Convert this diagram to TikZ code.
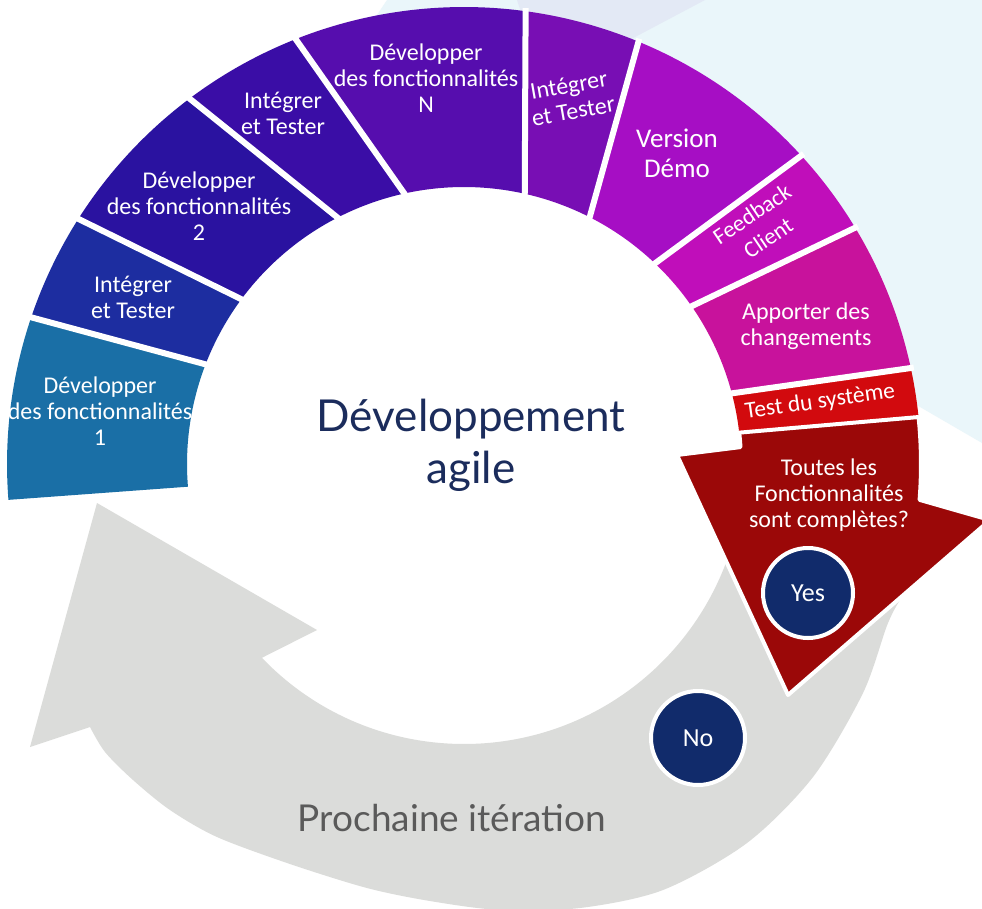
\documentclass[tikz,border=0pt]{standalone}
\usepackage{fontspec}
\setmainfont{Carlito}
\newfontfamily\labfont{Carlito}
\newfontfamily\bigfnt{Lato}
\usetikzlibrary{calc}
\definecolor{bgcyan}{HTML}{EAF6FA}
\definecolor{bglav}{HTML}{E3E9F5}
\definecolor{cA}{HTML}{1A6FA6}
\definecolor{cB}{HTML}{1D2DA0}
\definecolor{cC}{HTML}{2A12A0}
\definecolor{cD}{HTML}{3A0DA6}
\definecolor{cE}{HTML}{560DAE}
\definecolor{cF}{HTML}{780EB4}
\definecolor{cG}{HTML}{A60EC4}
\definecolor{cH}{HTML}{C00EBA}
\definecolor{cI}{HTML}{C8129C}
\definecolor{cJ}{HTML}{D20A0E}
\definecolor{arrowred}{HTML}{9B0808}
\definecolor{greyarrow}{HTML}{DBDCDA}
\definecolor{navy}{HTML}{112B6B}
\definecolor{titlenavy}{HTML}{1B2C5C}
\definecolor{greytext}{HTML}{5A5A5A}
\newcommand\ringseg[5]{%
  \fill[#1] ($(C)+(#2:457)$) arc[start angle=#2, end angle=#4, radius=457]
    -- ($(C)+(#5:277)$) arc[start angle=#5, end angle=#3, radius=277] -- cycle;}
\newcommand\ringsep[2]{\draw[sepline] ($(C)+(#1:460)$) -- ($(C)+(#2:272)$);}
\begin{document}
\begin{tikzpicture}[x=1pt,y=1pt,
  sepline/.style={white, line width=6},
  lbl/.style={align=center, text=white, inner sep=0pt,
    font=\labfont\fontsize{24}{26}\selectfont},
  circ/.style={circle, fill=navy, draw=white, line width=4, text=white,
    inner sep=0pt, font=\labfont\fontsize{26}{28}\selectfont}]
\useasboundingbox (0,0) rectangle (982,-908);
\fill[white] (0,0) rectangle (982,-908);
\coordinate (C) at (464,-464);
% background
\fill[bgcyan] (340,-70) -- (387,0) -- (982,0) -- (982,-443) -- (920,-407)
  -- (800,-337) -- (700,-250) -- (560,-120) -- (400,-100) -- cycle;
\fill[bglav] (517,0) -- (705,0) -- (620,-45) -- (540,-70) -- cycle;
% grey arrow
\fill[greyarrow] ($(C)+(223.8:280)$) arc[start angle=223.8, end angle=342.5, radius=280]
  -- (935,-548)
  -- plot[smooth] coordinates {(935,-548) (905,-592) (888,-623) (863,-693) (813,-777)
     (747,-843) (663,-890) (580,-908) (500,-910) (430,-901) (367,-888) (290,-864)
     (217,-837) (170,-810) (133,-780) (105,-752) (90,-727)}
  -- (30,-747) -- (97,-503) -- (317,-630) -- cycle;
% ring segments
\ringseg{cA}{184.5}{184.7}{161.3}{158.8}
\ringseg{cB}{161.3}{158.8}{147.6}{143.3}
\ringseg{cC}{147.6}{143.3}{127}{116.7}
\ringseg{cD}{127}{116.7}{111.7}{102}
\ringseg{cE}{111.7}{102}{82.3}{77.1}
\ringseg{cF}{82.3}{77.1}{67.6}{62.8}
\ringseg{cG}{67.6}{62.8}{42.4}{46.6}
\ringseg{cH}{42.4}{46.6}{31.1}{34.9}
\ringseg{cI}{31.1}{34.9}{12.1}{14.9}
\ringseg{cJ}{12.1}{14.9}{5.9}{6.5}
\ringsep{161.3}{158.8}
\ringsep{147.6}{143.3}
\ringsep{127}{116.7}
\ringsep{111.7}{102}
\ringsep{82.3}{77.1}
\ringsep{67.6}{62.8}
\ringsep{42.4}{46.6}
\ringsep{31.1}{34.9}
\ringsep{12.1}{14.9}
% red decision arrow
\filldraw[fill=arrowred, draw=white, line width=4, line join=round]
  ($(C)+(5.9:457)$) arc[start angle=5.9, end angle=-4.5, radius=457]
  -- (990,-520) -- (788,-695) -- (677,-455)
  -- ($(C)+(3.5:277)$) arc[start angle=3.5, end angle=6.5, radius=277] -- cycle;
% labels
\node[lbl] (l1) at (100,-411) {Développer\\des fonctionnalités\\1};
\node[lbl] (l2) at (133,-297) {Intégrer\\et Tester};
\node[lbl] (l3) at (199,-206) {Développer\\des fonctionnalités\\2};
\node[lbl] (l4) at (283,-113) {Intégrer\\et Tester};
\node[lbl] (l5) at (426,-78) {Développer\\des fonctionnalités\\N};
\node[lbl, rotate=10] (l6) at (571,-98) {Intégrer\\et Tester};
\node[lbl, font=\labfont\fontsize{27}{30}\selectfont] (l7) at (677,-153) {Version\\Démo};
\node[lbl, rotate=34, font=\labfont\fontsize{23}{29}\selectfont] (l8) at (760,-226) {Feedback\\Client};
\node[lbl] (l9) at (806,-326) {Apporter des\\changements};
\node[lbl, rotate=8, font=\labfont\fontsize{23.5}{25}\selectfont] (l10) at (820,-402) {Test du système};
\node[lbl] (l11) at (829,-495) {Toutes les\\Fonctionnalités\\sont complètes?};
\node[align=center, text=titlenavy, inner sep=0pt,
  font=\bigfnt\fontsize{44}{52}\selectfont] (title) at (471,-445) {Développement\\agile};
\node[text=greytext, inner sep=0pt, font=\bigfnt\fontsize{37}{40}\selectfont]
  (next) at (452,-818) {Prochaine itération};
\node[circ, minimum size=90] (yes) at (808,-593) {Yes};
\node[circ, minimum size=94] (no) at (698,-738) {No};
\end{tikzpicture}
\end{document}
